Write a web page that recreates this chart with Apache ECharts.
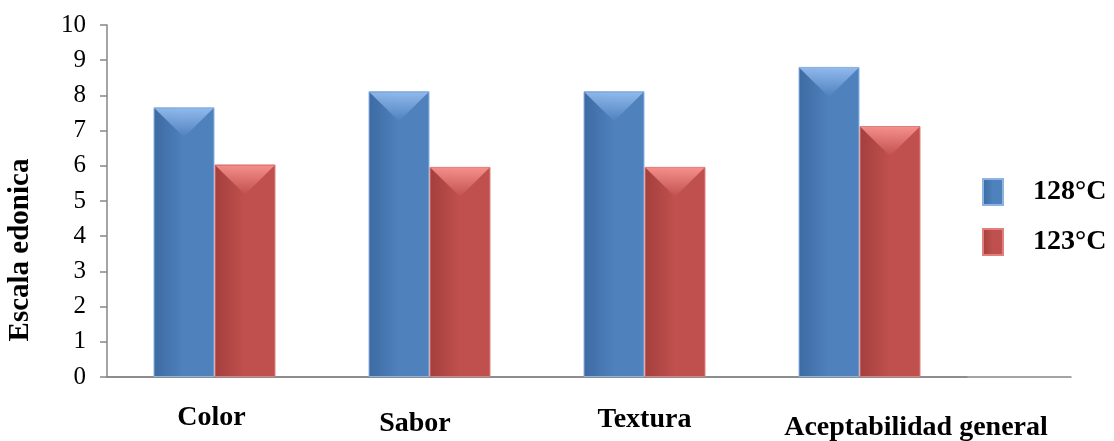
<!DOCTYPE html>
<html>
<head>
    <meta charset="utf-8">
    <title>Escala edonica</title>
    <script src="https://cdn.jsdelivr.net/npm/echarts@6/dist/echarts.min.js"></script>
</head>
<body style="margin:0">
    <div id="main" style="width:1114px;height:441px;"></div>
    <script type="text/javascript">
        // datos
        var categorias = ['Color', 'Sabor', 'Textura', 'Aceptabilidad general'];
        var serie128 = [7.66, 8.12, 8.12, 8.81];
        var serie123 = [6.04, 5.97, 5.97, 7.13];
        var nombres = ['128°C', '123°C'];
        var ticksY = [0, 10, 1];

        var myChart = echarts.init(document.getElementById('main'));
        var fuente = 'Liberation Serif';
        var gris = '#868686';
        var ancho = 61;

        function degradado(oscuro, claro) {
            return new echarts.graphic.LinearGradient(0, 0, 1, 0, [
                { offset: 0, color: oscuro },
                { offset: 0.5, color: claro },
                { offset: 1, color: claro }
            ]);
        }

        function etiqueta(pad) {
            return { fontFamily: fuente, fontSize: 28, fontWeight: 'bold', color: '#000', padding: pad };
        }

        // triangulo claro en la parte superior de cada barra (efecto bisel)
        function bisel(lado, claro, base) {
            return function (params, api) {
                var p = api.coord([api.value(0), api.value(1)]);
                var x0 = p[0] + (lado < 0 ? -ancho : 0);
                var x1 = x0 + ancho;
                return {
                    type: 'polygon',
                    shape: { points: [[x0 + 1, p[1] + 1], [x1 - 1, p[1] + 1], [(x0 + x1) / 2, p[1] + 30]] },
                    style: {
                        fill: new echarts.graphic.LinearGradient(0, 0, 0, 1, [
                            { offset: 0, color: claro },
                            { offset: 1, color: base }
                        ]),
                        opacity: 0.85
                    }
                };
            };
        }

        var option = {
            animation: false,
            grid: [
                { left: 107, right: 147, top: 25, bottom: 64, outerBoundsMode: 'none', containLabel: false },
                { left: 107, right: 43, top: 25, bottom: 64, outerBoundsMode: 'none', containLabel: false }
            ],
            legend: {
                orient: 'vertical',
                left: 977,
                top: 173,
                icon: 'rect',
                itemWidth: 20,
                itemHeight: 26,
                itemGap: 22,
                textStyle: { fontFamily: fuente, fontSize: 28, fontWeight: 'bold', color: '#000', padding: [0, 0, 0, 25] },
                data: nombres
            },
            xAxis: [
                {
                    type: 'category',
                    gridIndex: 0,
                    data: categorias,
                    axisLine: { lineStyle: { color: gris, width: 1.5 } },
                    axisTick: { show: false },
                    axisLabel: {
                        margin: 25,
                        interval: 0,
                        formatter: function (v, i) {
                            return '{' + 'abcd'.charAt(i) + '|' + v + '}';
                        },
                        rich: {
                            a: etiqueta([2, 6, 0, 0]),
                            b: etiqueta([8, 29, 0, 0]),
                            c: etiqueta([4, 0, 0, 0]),
                            d: etiqueta([12, 0, 0, 113])
                        }
                    }
                },
                {
                    type: 'value',
                    gridIndex: 1,
                    axisLine: { show: true, lineStyle: { color: gris, width: 1.5 } },
                    axisTick: { show: false },
                    axisLabel: { show: false },
                    splitLine: { show: false }
                }
            ],
            yAxis: [
                {
                    type: 'value',
                    gridIndex: 0,
                    min: ticksY[0],
                    max: ticksY[1],
                    interval: ticksY[2],
                    name: 'Escala edonica',
                    nameLocation: 'middle',
                    nameGap: 72,
                    nameTextStyle: { fontFamily: fuente, fontSize: 29, fontWeight: 'bold', color: '#000', padding: [0, 98, 0, 0] },
                    axisLine: { show: true, lineStyle: { color: gris, width: 1.5 } },
                    axisTick: { show: true, length: 7, lineStyle: { color: gris, width: 1.5 } },
                    axisLabel: { fontFamily: fuente, fontSize: 25, color: '#000', margin: 21 },
                    splitLine: { show: false }
                },
                {
                    type: 'value',
                    gridIndex: 1,
                    show: false
                }
            ],
            series: [
                {
                    name: nombres[0],
                    type: 'bar',
                    xAxisIndex: 0,
                    yAxisIndex: 0,
                    data: serie128,
                    barWidth: ancho,
                    barGap: '0%',
                    itemStyle: {
                        color: degradado('#3d6aa2', '#4f81bd'),
                        borderColor: '#8db3e2',
                        borderWidth: 1
                    }
                },
                {
                    name: nombres[1],
                    type: 'bar',
                    xAxisIndex: 0,
                    yAxisIndex: 0,
                    data: serie123,
                    barWidth: ancho,
                    barGap: '0%',
                    itemStyle: {
                        color: degradado('#a33f3d', '#c0504d'),
                        borderColor: '#e0807e',
                        borderWidth: 1
                    }
                },
                {
                    type: 'custom',
                    xAxisIndex: 0,
                    yAxisIndex: 0,
                    renderItem: bisel(-1, '#9cc3f5', '#4f81bd'),
                    data: serie128.map(function (v, i) { return [i, v]; }),
                    silent: true,
                    z: 3
                },
                {
                    type: 'custom',
                    xAxisIndex: 0,
                    yAxisIndex: 0,
                    renderItem: bisel(1, '#ff9a96', '#c0504d'),
                    data: serie123.map(function (v, i) { return [i, v]; }),
                    silent: true,
                    z: 3
                }
            ]
        };
        myChart.setOption(option);
    </script>
</body>
</html>
